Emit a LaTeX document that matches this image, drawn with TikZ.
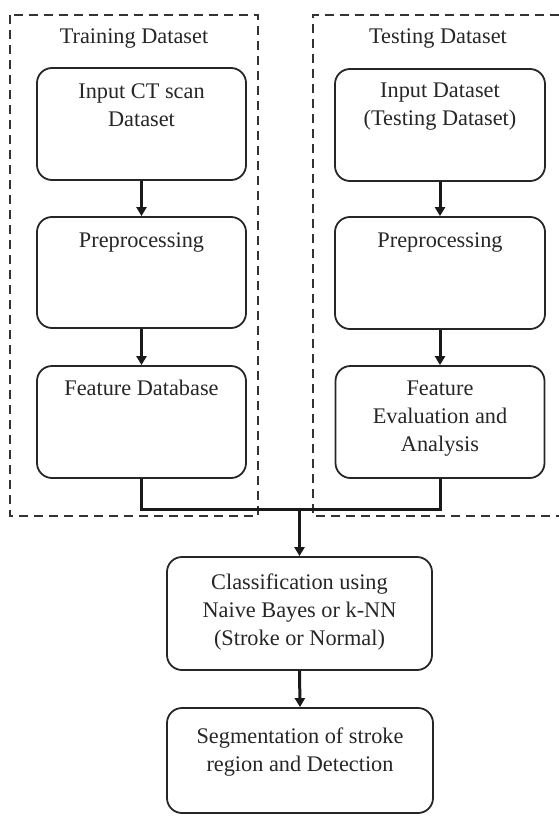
\documentclass[tikz,border=0pt]{standalone}
\usepackage{fontspec}
\setmainfont{Liberation Serif}
\usetikzlibrary{arrows.meta,calc}
\begin{document}
\begin{tikzpicture}[x=1pt,y=-1pt,
  stepbox/.style={draw=black!85,line width=1.8pt,rounded corners=15pt,minimum width=#1,inner sep=0pt},
  lbl/.style={anchor=north,align=center,font=\fontsize{22.3}{28}\selectfont,text=black!85,inner sep=0pt},
  conn/.style={line width=3pt,draw=black!90},
  arr/.style={conn,-{Triangle[width=10pt,length=9pt]}},
  dashbox/.style={draw=black!80,line width=1.3pt,dash pattern=on 9pt off 6pt}]
\useasboundingbox (0,0) rectangle (559,816);
% dashed groups
\draw[dashbox] (10,15) rectangle (258,516);
\draw[dashbox] (559,15) -- (313,15) -- (313,516) -- (559,516);
\node[lbl] (ttrain) at (134,29) {Training Dataset};
\node[lbl] (ttest) at (438,29) {Testing Dataset};
% boxes
\node[stepbox=209pt,minimum height=112pt] (L1) at (141.5,124) {};
\node[stepbox=209pt,minimum height=111pt] (L2) at (141.5,272.5) {};
\node[stepbox=209pt,minimum height=112pt] (L3) at (141.5,422) {};
\node[stepbox=210pt,minimum height=112pt] (R1) at (440,125) {};
\node[stepbox=210pt,minimum height=112pt] (R2) at (440,273) {};
\node[stepbox=209pt,minimum height=112pt] (R3) at (440,422) {};
\node[stepbox=265pt,minimum height=113pt] (C) at (299.5,613.5) {};
\node[stepbox=266pt,minimum height=105pt] (S) at (300,760.5) {};
% labels
\node[lbl] (tL1) at ($(L1.north)+(0,16)$) {Input CT scan\\Dataset};
\node[lbl] (tL2) at ($(L2.north)+(0,16)$) {Preprocessing};
\node[lbl] (tL3) at ($(L3.north)+(0,15)$) {Feature Database};
\node[lbl] (tR1) at ($(R1.north)+(0,15)$) {Input Dataset\\(Testing Dataset)};
\node[lbl] (tR2) at ($(R2.north)+(0,16)$) {Preprocessing};
\node[lbl] (tR3) at ($(R3.north)+(0,16)$) {Feature\\Evaluation and\\Analysis};
\node[lbl] (tC) at ($(C.north)+(0,17)$) {Classification using\\Naive Bayes or k-NN\\(Stroke or Normal)};
\node[lbl] (tS) at ($(S.north)+(0,20)$) {Segmentation of stroke\\region and Detection};
% connectors
\draw[arr] (L1.south) -- (L2.north);
\draw[arr] (L2.south) -- (L3.north);
\draw[arr] (R1.south) -- (R2.north);
\draw[arr] (R2.south) -- (R3.north);
\coordinate (mid) at (C.north |- 0,509);
\draw[conn] (L3.south) |- (mid) -| (R3.south);
\draw[arr] (mid) -- (C.north);
\draw[arr] (C.south) -- (S.north);
\end{tikzpicture}
\end{document}
